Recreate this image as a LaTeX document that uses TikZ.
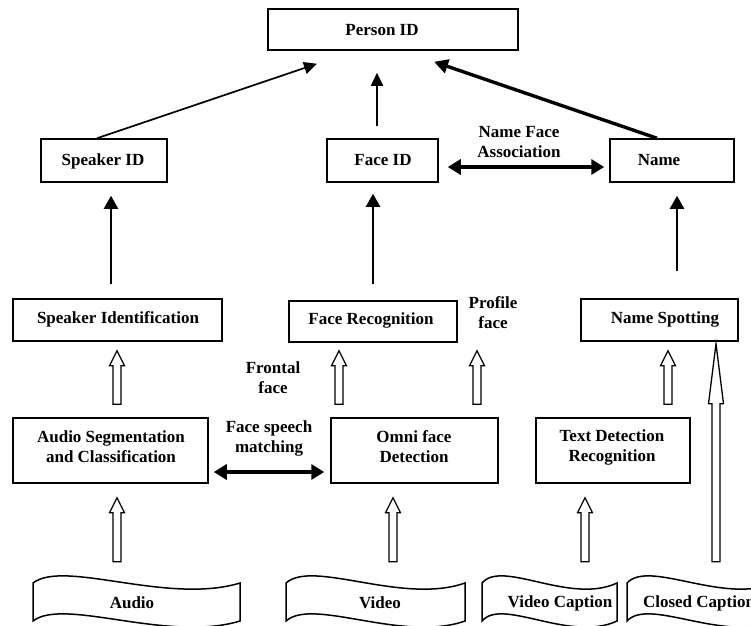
\documentclass[tikz,border=0pt]{standalone}
\usepackage{fontspec}
\setmainfont{Liberation Serif}
\usetikzlibrary{arrows.meta,calc}
\newcommand\wavebanner[2]{%
  \pgfmathsetmacro\bw{#2-#1}%
  \draw[bannerline] (#1,583) .. controls +(0.15*\bw,-24) and +(-0.35*\bw,22) .. (#2,583)
    -- (#2,621) .. controls +(-0.35*\bw,22) and +(0.15*\bw,-24) .. (#1,621) -- cycle;}
\begin{document}
\begin{tikzpicture}[x=1pt,y=-1pt,
  box/.style={draw, line width=1.5pt, inner sep=0pt},
  txt/.style={font=\fontsize{17}{20}\selectfont\bfseries, align=center, inner sep=0pt},
  bannerline/.style={line width=1.5pt},
  thinarr/.style={line width=1.7pt, -{Triangle[length=13pt,width=12pt]}},
  thickarr/.style={line width=3.4pt, -{Triangle[length=14pt,width=14pt]}},
  vsolid/.style={line width=2.2pt, -{Triangle[length=13pt,width=14pt]}},
  dblarr/.style={line width=3.5pt, {Triangle[length=13pt,width=15pt]}-{Triangle[length=13pt,width=15pt]}},
  hollow/.style={line width=1.3pt, to path={let \p1=(\tikztostart), \p2=(\tikztotarget) in
    (\x1-4pt,\y1) -- (\x1-4pt,\y2-#1) -- (\x1-7.5pt,\y2-#1) -- (\x1,\y2) -- (\x1+7.5pt,\y2-#1)
    -- (\x1+4pt,\y2-#1) -- (\x1+4pt,\y1) -- cycle}},
  hollow/.default=15pt
]
\path[use as bounding box] (0,0) rectangle (751,625);
\clip (0,0) rectangle (751,625);

% boxes
\node[box, minimum width=250pt, minimum height=41pt] (person) at (393,29.5) {};
\node[box, minimum width=126pt, minimum height=43pt] (spkid) at (104,160.5) {};
\node[box, minimum width=111pt, minimum height=43pt] (faceid) at (382.5,160.5) {};
\node[box, minimum width=124pt, minimum height=43pt] (name) at (672,160.5) {};
\node[box, minimum width=209pt, minimum height=42pt] (spkident) at (117.5,320) {};
\node[box, minimum width=168pt, minimum height=41pt] (facerec) at (373,321.5) {};
\node[box, minimum width=157pt, minimum height=42pt] (namespot) at (659.5,320) {};
\node[box, minimum width=195pt, minimum height=65pt] (audioseg) at (110.5,450.5) {};
\node[box, minimum width=167pt, minimum height=65pt] (omni) at (414.5,450.5) {};
\node[box, minimum width=154pt, minimum height=65pt] (textdet) at (613,450.5) {};

% texts
\node[txt] (personT) at (382,30) {Person ID};
\node[txt] (spkidT) at (103,161) {Speaker ID};
\node[txt] (faceidT) at (383,160) {Face ID};
\node[txt] (nameT) at (659,160) {Name};
\node[txt] (spkidentT) at (118,319) {Speaker Identification};
\node[txt] (facerecT) at (371,320) {Face Recognition};
\node[txt] (namespotT) at (665,319) {Name Spotting};
\node[txt] (audiosegT) at (111,447) {Audio Segmentation\\and Classification};
\node[txt] (omniT) at (414,447) {Omni face\\Detection};
\node[txt] (textdetT) at (612,447) {Text Detection\\Recognition};
\node[txt] (nfa) at (519,142) {Name Face\\Association};
\node[txt] (profile) at (493,313) {Profile\\face};
\node[txt] (frontal) at (273,378) {Frontal\\face};
\node[txt] (fsm) at (269,438) {Face speech\\matching};

% banners
\wavebanner{33}{240}
\wavebanner{286}{465}
\wavebanner{482}{617}
\wavebanner{627}{775}
\node[inner sep=0pt, minimum width=207pt, minimum height=38pt] (audioB) at (136.5,602) {};
\node[inner sep=0pt, minimum width=179pt, minimum height=38pt] (videoB) at (375.5,602) {};
\node[inner sep=0pt, minimum width=135pt, minimum height=38pt] (vcapB) at (549.5,602) {};
\node[inner sep=0pt, minimum width=148pt, minimum height=38pt] (ccapB) at (701,602) {};
\node[txt] (audioT) at (132,603) {Audio};
\node[txt] (videoT) at (380,603) {Video};
\node[txt] (vcapT) at (560,603) {Video Caption};
\node[txt] (ccapT) at (699,603) {Closed Caption};

% top arrows
\draw[thinarr] ([xshift=-7pt]spkid.north) -- ([xshift=-76pt,yshift=-13pt]person.south);
\draw[thinarr] ([xshift=-5.5pt,yshift=12pt]faceid.north) -- ([xshift=-16pt,yshift=-22pt]person.south);
\draw[thickarr] ([xshift=-15pt]name.north) -- ([xshift=41pt,yshift=-11pt]person.south);
\draw[dblarr] ([xshift=9pt,yshift=-6.5pt]faceid.east) -- ([xshift=-5pt,yshift=-6.5pt]name.west);

% vertical solid arrows
\draw[vsolid] ([xshift=-6.5pt,yshift=14pt]spkident.north) -- ([xshift=7pt,yshift=-13pt]spkid.south);
\draw[vsolid] ([yshift=16pt]facerec.north) -- ([xshift=-9.5pt,yshift=-11pt]faceid.south);
\draw[vsolid] ([xshift=17.5pt,yshift=27pt]namespot.north) -- ([xshift=5pt,yshift=-13pt]name.south);

% face speech matching
\draw[dblarr] ([xshift=5pt,yshift=-21.5pt]audioseg.east) -- ([xshift=-6pt,yshift=-21.5pt]omni.west);

% hollow arrows
\draw[hollow] ([xshift=6.5pt,yshift=13pt]audioseg.north) to ([xshift=-0.5pt,yshift=-9pt]spkident.south);
\draw[hollow] ([xshift=-75.5pt,yshift=13pt]omni.north) to ([xshift=-34pt,yshift=-8pt]facerec.south);
\draw[hollow] ([xshift=62.5pt,yshift=13pt]omni.north) to ([xshift=104pt,yshift=-8pt]facerec.south);
\draw[hollow] ([xshift=55pt,yshift=13pt]textdet.north) to ([xshift=8.5pt,yshift=-9pt]namespot.south);
\draw[hollow=60pt] ([xshift=15pt,yshift=21pt]ccapB.north) to ([xshift=56.5pt,yshift=-2pt]namespot.south);
\draw[hollow] ([xshift=-19.5pt,yshift=21pt]audioB.north) to ([xshift=6.5pt,yshift=-14pt]audioseg.south);
\draw[hollow] ([xshift=17.5pt,yshift=21pt]videoB.north) to ([xshift=-21.5pt,yshift=-14pt]omni.south);
\draw[hollow] ([xshift=35.5pt,yshift=21pt]vcapB.north) to ([xshift=-28pt,yshift=-14pt]textdet.south);
\end{tikzpicture}
\end{document}
